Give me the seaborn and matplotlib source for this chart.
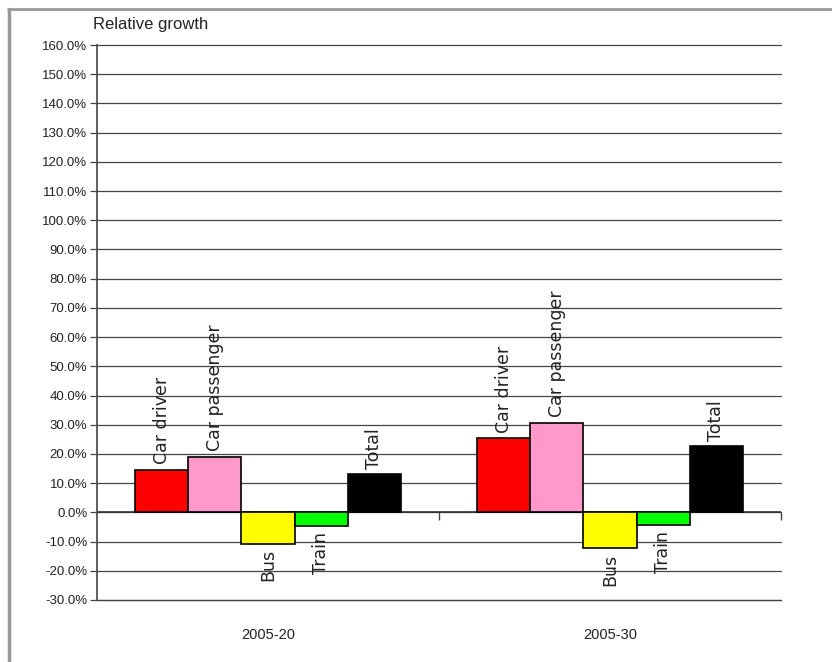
import matplotlib
matplotlib.use("Agg")
import matplotlib.pyplot as plt
import seaborn as sns
import pandas as pd
import numpy as np
from matplotlib.lines import Line2D

periods = ["2005-20", "2005-30"]
modes = ["Car driver", "Car passenger", "Bus", "Train", "Total"]
growth_2005_20 = [14.5, 19.0, -10.7, -4.7, 13.1]
growth_2005_30 = [25.3, 30.7, -12.2, -4.4, 22.7]
colors = ["#FF0000", "#FF99CC", "#FFFF00", "#00FF00", "#000000"]
yticks = list(range(-30, 161, 10))

rows = []
for p, vals in zip(periods, [growth_2005_20, growth_2005_30]):
    for m, v in zip(modes, vals):
        rows.append({"period": p, "mode": m, "growth": v})
df = pd.DataFrame(rows)

sns.set_style("white")
plt.rcParams['font.family'] = ['Liberation Sans', 'DejaVu Sans']

fig = plt.figure(figsize=(8.32, 6.62), dpi=100)
ax = fig.add_axes([97/832, 1-600/662, (781-97)/832, (600-45)/662])

sns.barplot(data=df, x="period", y="growth", hue="mode", order=periods,
            hue_order=modes, palette=colors, saturation=1, width=0.776,
            edgecolor="black", linewidth=1.2, ax=ax, legend=False, zorder=3)

ax.set_xlim(-0.5, 1.5)
ax.set_ylim(-30, 160)
ax.set_yticks(yticks)
ax.set_yticklabels([f"{t:.1f}%" for t in yticks], fontsize=9.5, color="#222222")
ax.yaxis.grid(True, color="#444444", linewidth=0.9)
for gl in ax.get_ygridlines():
    gl.set_clip_on(False)
ax.set_axisbelow(True)
ax.tick_params(axis="y", direction="out", length=5, width=0.9, color="#444444", pad=2, left=True)
ax.tick_params(axis="x", length=0, labelsize=10.5, pad=20, colors="#222222")
ax.set_xlabel("")
ax.set_ylabel("")
for s in ["top", "right"]:
    ax.spines[s].set_visible(False)
ax.spines["bottom"].set_color("#444444")
ax.spines["bottom"].set_linewidth(0.9)
ax.spines["left"].set_color("#444444")
ax.spines["left"].set_linewidth(1.2)
ax.axhline(0, color="#333333", linewidth=1.2, zorder=2)

# category separator ticks on the zero line
sec = ax.secondary_xaxis(30/190)
sec.set_xticks([0.5, 1.5])
sec.set_xticklabels(["", ""])
sec.tick_params(direction="out", length=6, width=1, color="#444444")
for s in sec.spines.values():
    s.set_visible(False)

# labels on bars
for container, m in zip(ax.containers, modes):
    for bar in container:
        h = bar.get_height()
        x = bar.get_x() + bar.get_width() / 2
        if h >= 0:
            ax.annotate(m, (x, h), xytext=(0, 4), textcoords="offset points",
                        rotation=90, ha="center", va="bottom", fontsize=12.5,
                        family="DejaVu Sans", color="#222222", zorder=5)
        else:
            ax.annotate(m, (x, h), xytext=(0, -4), textcoords="offset points",
                        rotation=90, ha="center", va="top", fontsize=12.5,
                        family="DejaVu Sans", color="#222222", zorder=5)

fig.text(93/832, 1-24/662, "Relative growth", fontsize=12, color="#222222",
         ha="left", va="center")

fig.add_artist(Line2D([8/832, 1.0], [1-9/662, 1-9/662], transform=fig.transFigure,
                      color="#999999", linewidth=2))
fig.add_artist(Line2D([9/832, 9/832], [0, 1-9/662], transform=fig.transFigure,
                      color="#999999", linewidth=2.5))

fig.savefig("out.png", dpi=100)
